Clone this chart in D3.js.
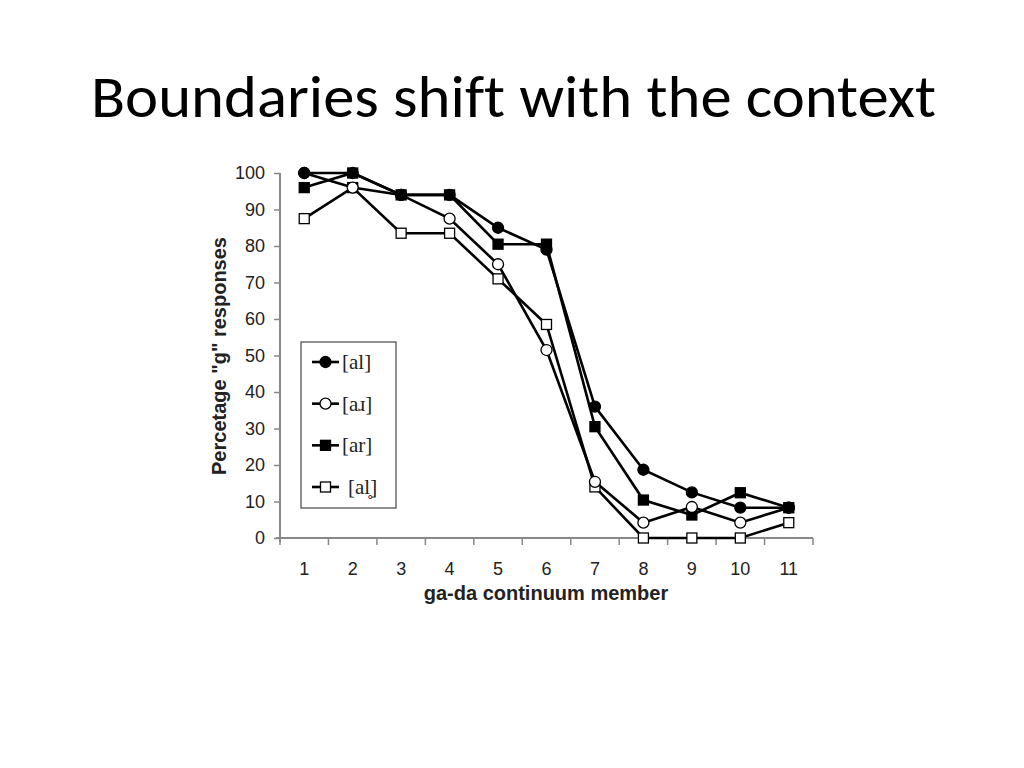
<!DOCTYPE html>
<html><head><meta charset="utf-8">
<script src="https://cdn.jsdelivr.net/npm/d3@7"></script>
<style>body{margin:0;background:#fff}</style>
</head><body>
<svg id="c" width="1024" height="768"></svg>
<script>
const title = "Boundaries shift with the context";
const categories = ["1","2","3","4","5","6","7","8","9","10","11"];
const yTicks = [0,10,20,30,40,50,60,70,80,90,100];
const seriesNames = ["[al]", "[a\u0279]", "[ar]", "[al\u0325]"];
const valsAl  = [100, 100, 94, 94, 85, 79, 36, 18.7, 12.5, 8.3, 8.3];
const valsAR  = [100, 96, 94, 87.5, 75, 51.5, 15.4, 4.2, 8.5, 4.2, 8.3];
const valsAr  = [96, 100, 94, 94, 80.5, 80.5, 30.5, 10.4, 6.3, 12.4, 8.3];
const valsAlv = [87.5, 96, 83.5, 83.5, 71, 58.5, 14, 0, 0, 0, 4.2];
const markers = ["fcircle", "ocircle", "fsquare", "osquare"];
const xLabel = "ga-da continuum member";
const yLabel = "Percetage \"g\" responses";

const series = [valsAl, valsAR, valsAr, valsAlv].map((v,i)=>({name:seriesNames[i], values:v, marker:markers[i]}));

const svg = d3.select("#c");
svg.append("text").attr("x",91).attr("y",117)
  .attr("textLength",845).attr("lengthAdjust","spacingAndGlyphs")
  .style("font-variant-ligatures","none")
  .attr("font-family","Carlito, Lato, 'Open Sans', sans-serif").attr("font-size",60).attr("fill","#000").text(title);

const pLeft=280, pRight=813, pTop=173, pBottom=538;
const x = d3.scaleBand().domain(categories).range([pLeft,pRight]);
const y = d3.scaleLinear().domain([0,100]).range([pBottom,pTop]);

const axisCol="#888";
const gy = svg.append("g").attr("transform",`translate(${pLeft},0)`)
  .call(d3.axisLeft(y).tickValues(yTicks).tickSize(6).tickPadding(9));
const gx = svg.append("g").attr("transform",`translate(0,${pBottom})`)
  .call(d3.axisBottom(x).tickSize(0).tickPadding(24));
[gy,gx].forEach(g=>{
  g.select(".domain").attr("stroke",axisCol).attr("stroke-width",2);
  g.selectAll(".tick line").attr("stroke",axisCol).attr("stroke-width",1.5);
  g.selectAll("text").attr("font-family","'Liberation Sans', Arial, sans-serif").attr("font-size",18).attr("fill","#222");
});
gy.select(".domain").attr("d",`M0,${pBottom+4}V${pTop}`);
gx.select(".domain").attr("d",`M${pLeft-4},0H${pRight}`);
const bounds = categories.map(c=>x(c)).concat([pRight]);
gx.selectAll(".btick").data(bounds).enter().append("line")
  .attr("x1",d=>d).attr("x2",d=>d).attr("y1",0).attr("y2",7)
  .attr("stroke",axisCol).attr("stroke-width",1.5);

svg.append("text").attr("x",546).attr("y",600).attr("text-anchor","middle")
  .attr("font-family","'Liberation Sans', Arial, sans-serif").attr("font-weight","bold").attr("font-size",20).attr("fill","#222").text(xLabel);
svg.append("text").attr("transform","translate(226,356) rotate(-90)").attr("text-anchor","middle")
  .attr("font-family","'Liberation Sans', Arial, sans-serif").attr("font-weight","bold").attr("font-size",20).attr("fill","#222").text(yLabel);

const cx = c => x(c)+x.bandwidth()/2;
const line = d3.line().x((d,i)=>cx(categories[i])).y(d=>y(d));

function drawMarker(g, type, px, py){
  if(type.endsWith("circle")){
    g.append("circle").attr("cx",px).attr("cy",py).attr("r",5.5)
      .attr("fill",type[0]==="f"?"#000":"#fff").attr("stroke","#000").attr("stroke-width",1.3);
  } else {
    const s = 10;
    g.append("rect").attr("x",px-s/2).attr("y",py-s/2).attr("width",s).attr("height",s)
      .attr("fill",type[0]==="f"?"#000":"#fff").attr("stroke","#000").attr("stroke-width",1.3);
  }
}

const plot = svg.append("g");
series.forEach(s=>{
  plot.append("path").attr("d",line(s.values)).attr("fill","none").attr("stroke","#000").attr("stroke-width",2.6);
});
[3,2,1,0].forEach(i=>{
  const s = series[i];
  s.values.forEach((v,j)=>drawMarker(plot, s.marker, cx(categories[j]), y(v)));
});

const lg = svg.append("g");
lg.append("rect").attr("x",301).attr("y",342).attr("width",95).attr("height",166)
  .attr("fill","#fff").attr("stroke","#555").attr("stroke-width",1.3);
const ly = d3.scalePoint().domain(seriesNames).range([362,487]);
series.forEach((s,i)=>{
  const yy = ly(s.name);
  lg.append("line").attr("x1",312).attr("x2",339).attr("y1",yy).attr("y2",yy).attr("stroke","#000").attr("stroke-width",2.6);
  drawMarker(lg, s.marker, 325.5, yy);
  lg.append("text").attr("x", i===3?348:342).attr("y",yy+7).attr("font-family","'Liberation Serif','DejaVu Serif',serif")
    .attr("font-size",21).attr("fill","#222").text(s.name);
});
</script>
</body></html>
